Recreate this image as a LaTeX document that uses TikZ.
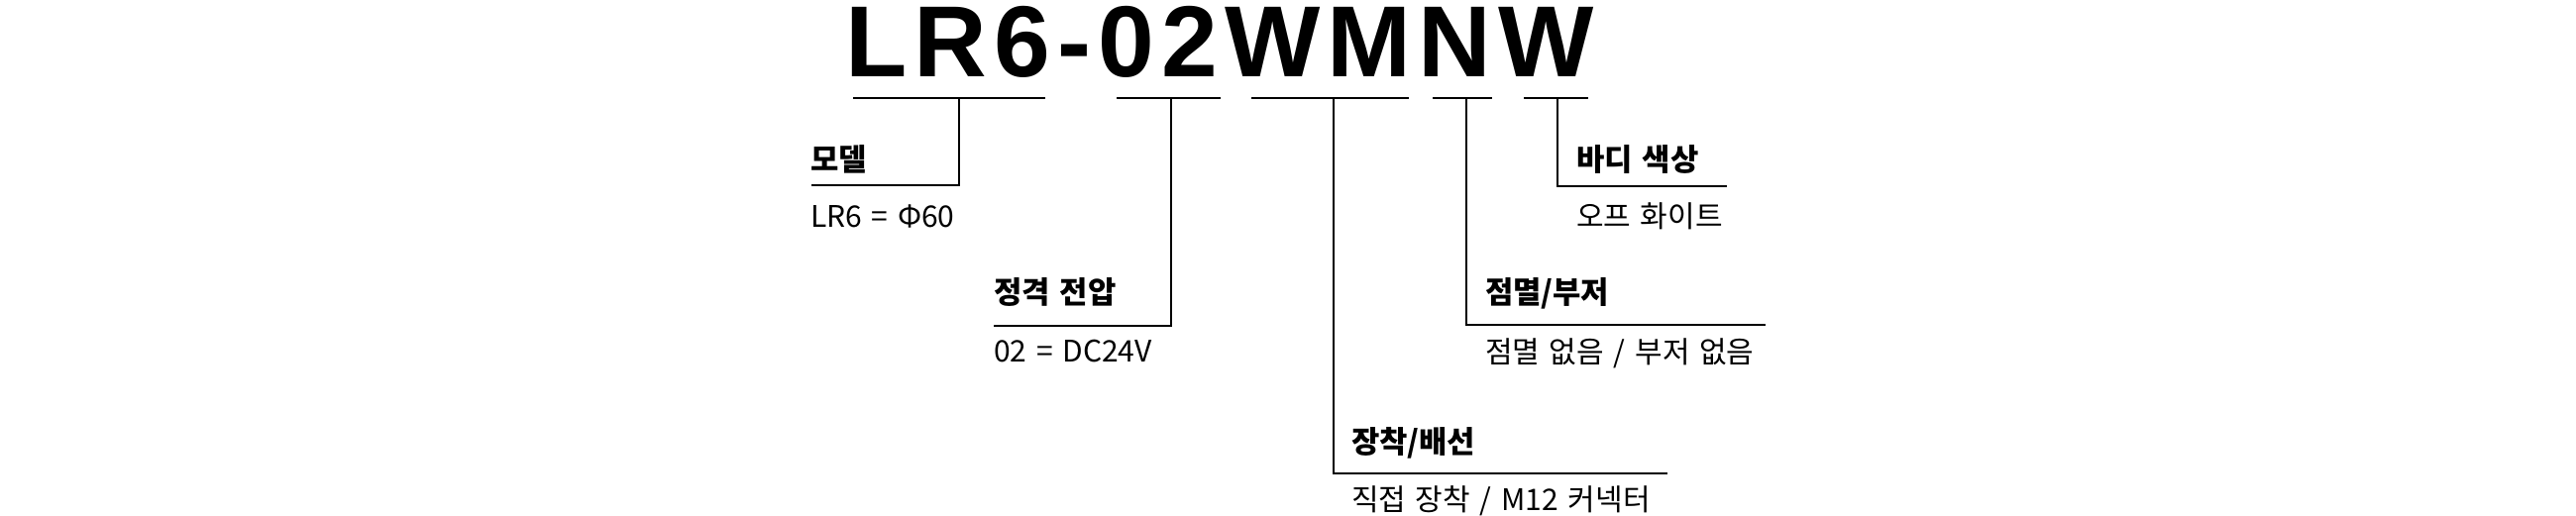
\documentclass[tikz,border=0pt]{standalone}
\usepackage{fontspec}
\newfontfamily\titlefont{Liberation Sans}[LetterSpace=7.0]
\newfontfamily\kr{Noto Sans CJK KR}
\newfontfamily\krdesc{Noto Sans CJK KR}[WordSpace=1.45]
\begin{document}
\begin{tikzpicture}[x=0.5pt,y=-0.5pt,
  every node/.style={inner sep=0pt, outer sep=0pt, anchor=base west},
  codetxt/.style={font=\titlefont\bfseries\fontsize{51}{51}\selectfont},
  labeltxt/.style={font=\kr\bfseries\fontsize{15.4}{15.4}\selectfont},
  desctxt/.style={font=\krdesc\fontsize{15}{15}\selectfont},
  segline/.style={line width=1.25pt},
  leader/.style={line width=0.85pt}]
\useasboundingbox (0,0) rectangle (2600,520);
% model code
\node[codetxt] (code) at (853.5,77) {LR6-02WMNW};
% underline segments
\coordinate (s1a) at (861,99);  \coordinate (s1b) at (1055,99);
\coordinate (s2a) at (1127,99); \coordinate (s2b) at (1232,99);
\coordinate (s3a) at (1263,99); \coordinate (s3b) at (1422,99);
\coordinate (s4a) at (1446,99); \coordinate (s4b) at (1506,99);
\coordinate (s5a) at (1538,99); \coordinate (s5b) at (1603,99);
\draw[segline] (s1a) -- (s1b);
\draw[segline] (s2a) -- (s2b);
\draw[segline] (s3a) -- (s3b);
\draw[segline] (s4a) -- (s4b);
\draw[segline] (s5a) -- (s5b);
% tick starts
\coordinate (u1) at (968,99);
\coordinate (u2) at (1182,99);
\coordinate (u3) at (1346,99);
\coordinate (u4) at (1480,99);
\coordinate (u5) at (1572,99);
% leader ends
\coordinate (e1) at (819,187);
\coordinate (e2) at (1003,329);
\coordinate (e3) at (1683,478);
\coordinate (e4) at (1782,328);
\coordinate (e5) at (1743,188);
% labels
\node[labeltxt] (lab1) at (818,172) {모델};
\node[desctxt] (desc1) at (818,229) {LR6 = Φ60};
\node[labeltxt] (lab2) at (1003,306) {정격 전압};
\node[desctxt] (desc2) at (1003,365) {02 = DC24V};
\node[labeltxt] (lab3) at (1364,457) {장착/배선};
\node[desctxt] (desc3) at (1364,515) {직접 장착 / M12 커넥터};
\node[labeltxt] (lab4) at (1499,306) {점멸/부저};
\node[desctxt] (desc4) at (1499,366) {점멸 없음 / 부저 없음};
\node[labeltxt] (lab5) at (1591,172) {바디 색상};
\node[desctxt] (desc5) at (1591,229) {오프 화이트};
% leaders
\draw[leader] (u1) |- (e1);
\draw[leader] (u2) |- (e2);
\draw[leader] (u3) |- (e3);
\draw[leader] (u4) |- (e4);
\draw[leader] (u5) |- (e5);
\end{tikzpicture}
\end{document}
